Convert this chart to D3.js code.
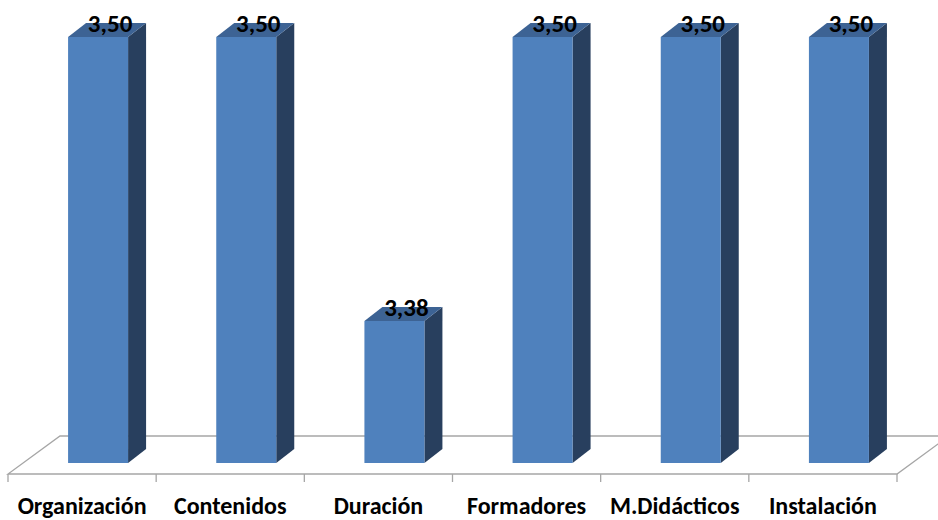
<!DOCTYPE html>
<html>
<head>
<meta charset="utf-8">
<script src="https://cdn.jsdelivr.net/npm/d3@7"></script>
<style>
  body { margin: 0; background: #fff; }
  text { font-family: Carlito, Calibri, Lato, "Open Sans", sans-serif; font-weight: bold; }
</style>
</head>
<body>
<div id="chart"></div>
<script>
var categories = ["Organización", "Contenidos", "Duración", "Formadores", "M.Didácticos", "Instalación"];
var values = [3.50, 3.50, 3.38, 3.50, 3.50, 3.50];
var labels = ["3,50", "3,50", "3,38", "3,50", "3,50", "3,50"];

var w = 938, h = 520,
    svg = d3.select("#chart")
        .append("svg")
        .attr("width", w)
        .attr("height", h);

// floor geometry (oblique 3d look)
var floorFront = 474, floorDx = 52, floorDy = -38;
var barW = 60, barShift = 16, depthDx = 18, depthDy = -14;
var base = 463;

var x = d3.scaleBand()
    .domain(categories)
    .range([8, 897]);

var y = d3.scaleLinear()
    .domain([3.32, 3.5])
    .range([base, 37]);

var floor = svg.append("g")
    .attr("fill", "none")
    .attr("stroke", "#a6a6a6")
    .attr("stroke-width", 1.3);

var x0 = x.range()[0], x1 = x.range()[1];
floor.append("path")
    .attr("d", "M" + (x1 + floorDx) + "," + (floorFront + floorDy) +
               "L" + (x0 + floorDx) + "," + (floorFront + floorDy) +
               "L" + x0 + "," + floorFront +
               "L" + x1 + "," + floorFront +
               "L" + (x1 + floorDx) + "," + (floorFront + floorDy));

// category ticks
floor.selectAll("line.tick")
    .data(categories.map(function(c) { return x(c); }).concat([x1]))
  .enter().append("line")
    .attr("x1", function(d) { return d; })
    .attr("x2", function(d) { return d; })
    .attr("y1", floorFront)
    .attr("y2", floorFront + 8);

var bars = svg.selectAll("g.bar")
    .data(categories.map(function(c, i) { return {cat: c, v: values[i], label: labels[i]}; }))
  .enter().append("g")
    .attr("class", "bar");

function left(d) { return x(d.cat) + x.bandwidth() / 2 - barW / 2 + barShift; }

// side face
bars.append("path")
    .attr("fill", "#283f5e")
    .attr("d", function(d) {
        var l = left(d) + barW, t = y(d.v);
        return "M" + l + "," + base + "L" + l + "," + t +
               "L" + (l + depthDx) + "," + (t + depthDy) +
               "L" + (l + depthDx) + "," + (base + depthDy) + "Z";
    });

// top face
bars.append("path")
    .attr("fill", "#3d6394")
    .attr("d", function(d) {
        var l = left(d), t = y(d.v);
        return "M" + l + "," + t + "L" + (l + barW) + "," + t +
               "L" + (l + barW + depthDx) + "," + (t + depthDy) +
               "L" + (l + depthDx) + "," + (t + depthDy) + "Z";
    });

// front face
bars.append("rect")
    .attr("fill", "#4f81bd")
    .attr("x", left)
    .attr("y", function(d) { return y(d.v); })
    .attr("width", barW)
    .attr("height", function(d) { return base - y(d.v); });

bars.append("text")
    .attr("text-anchor", "middle")
    .attr("font-size", 25)
    .attr("fill", "#000")
    .attr("x", function(d) { return left(d) + barW / 2 + 12; })
    .attr("y", function(d) { return y(d.v) - 5; })
    .text(function(d) { return d.label; });

svg.selectAll("text.cat")
    .data(categories)
  .enter().append("text")
    .attr("class", "cat")
    .attr("text-anchor", "middle")
    .attr("font-size", 24)
    .attr("fill", "#000")
    .attr("x", function(d) { return x(d) + x.bandwidth() / 2; })
    .attr("y", 514)
    .text(function(d) { return d; });
</script>
</body>
</html>
